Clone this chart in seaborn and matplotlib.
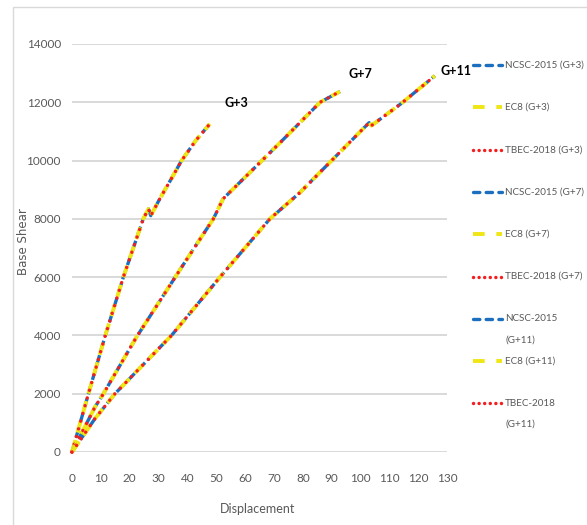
import matplotlib
matplotlib.use('Agg')
import pandas as pd
import seaborn as sns
import matplotlib.pyplot as plt
from matplotlib.lines import Line2D
from matplotlib.patches import Rectangle

# pushover curves (displacement, base shear)
g3_disp = [0, 5.7, 11.4, 17.8, 24.7, 26.5, 27.3, 30.5, 34, 38, 43, 47.8]
g3_shear = [0, 2000, 3950, 6000, 8000, 8340, 8110, 8700, 9300, 10000, 10700, 11260]

g7_disp = [0, 8, 10.9, 22.4, 38.4, 49, 52.4, 59.4, 72, 86, 92.9]
g7_shear = [0, 1550, 2000, 3950, 6400, 8000, 8690, 9370, 10600, 12000, 12370]

g11_disp = [0, 8, 14.9, 34.5, 51.3, 68.6, 79, 90, 103, 103.8, 114.3, 125.8]
g11_shear = [0, 1150, 2000, 4000, 6000, 8000, 8900, 10000, 11300, 11200, 11970, 12910]

buildings = ['G+3', 'G+7', 'G+11']
codes = ['NCSC-2015', 'EC8', 'TBEC-2018']
legend_labels = ['NCSC-2015 (G+3)', 'EC8 (G+3)', 'TBEC-2018 (G+3)',
                 'NCSC-2015 (G+7)', 'EC8 (G+7)', 'TBEC-2018 (G+7)',
                 'NCSC-2015\n(G+11)', 'EC8 (G+11)', 'TBEC-2018\n(G+11)']

curves = {'G+3': (g3_disp, g3_shear), 'G+7': (g7_disp, g7_shear), 'G+11': (g11_disp, g11_shear)}

code_style = {
    'NCSC-2015': dict(color='#1C6FBE', lw=2.4, linestyle=(0, (3.2, 1.3)), dash_capstyle='butt'),
    'EC8': dict(color='#F0E614', lw=2.8, linestyle=(0, (3.2, 2.0)), dash_capstyle='butt'),
    'TBEC-2018': dict(color='#F51E1E', lw=2.5, linestyle=(0, (0.01, 2.3)), dash_capstyle='round'),
}
# the legend keys use the plainer Excel patterns
legend_dash = {'NCSC-2015': (0, (1.9, 1.9)), 'EC8': (0, (3.0, 3.0)), 'TBEC-2018': (0, (0.01, 1.6))}

sns.set_theme(style='white')
plt.rcParams['font.family'] = ['Lato', 'DejaVu Sans']

W, H = 587, 525
fig = plt.figure(figsize=(W / 100, H / 100), dpi=100)
ax = fig.add_axes([72 / W, 1 - 452 / H, 375 / W, 408 / H])

for b in buildings:
    d, s = curves[b]
    df = pd.DataFrame({'disp': d, 'shear': s})
    for c in codes:
        sns.lineplot(data=df, x='disp', y='shear', ax=ax, sort=False, estimator=None,
                     clip_on=False, **code_style[c])

ax.set_xlim(0, 130)
ax.set_ylim(0, 14000)
ax.set_xticks(range(0, 131, 10))
ax.set_yticks(range(0, 14001, 2000))
ax.grid(axis='y', color='#d9d9d9', lw=1.4)
ax.set_axisbelow(True)
for sp in ax.spines.values():
    sp.set_visible(False)
ax.tick_params(axis='both', length=0, labelsize=8.5, labelcolor='#595959')
ax.tick_params(axis='x', pad=15)
ax.tick_params(axis='y', pad=8)

ax.set_xlabel('Displacement', fontsize=9, color='#595959')
ax.xaxis.set_label_coords(0.496, -0.125)
ax.set_ylabel('Base Shear', fontsize=8.5, color='#595959', family='DejaVu Sans')
ax.yaxis.set_label_coords(-0.112, 0.515)

# building tags next to curve ends
tag_pos = {'G+3': (52.7, 11980), 'G+7': (96, 12975), 'G+11': (127.6, 13080)}
for b in buildings:
    x, y = tag_pos[b]
    ax.text(x, y, b, fontsize=9, fontweight='bold', color='black', ha='left', va='center')

# legend on the right, drawn by hand to keep Excel's spacing
leg_texts = []
for i, lab in enumerate(legend_labels):
    c = codes[i % 3]
    ypx = 65 + 42.3 * i
    yf = 1 - ypx / H
    key = dict(code_style[c], linestyle=legend_dash[c])
    if c == 'NCSC-2015':
        key['dash_capstyle'] = 'round'
    fig.add_artist(Line2D([473 / W, 502 / W], [yf, yf], transform=fig.transFigure, **key))
    for j, line in enumerate(lab.split('\n')):
        t = fig.text(505 / W, 1 - (ypx + 21 * j) / H, line, fontsize=9, color='#595959',
                     ha='left', va='center')
        leg_texts.append(t)

# shrink legend text so the longest entry ends inside the picture
fig.canvas.draw()
r = fig.canvas.get_renderer()
widest = max(t.get_window_extent(r).width for t in leg_texts)
if widest > 79:
    for t in leg_texts:
        t.set_fontsize(9 * 79 / widest)

# chart frame
fig.add_artist(Rectangle((13 / W, -1), 2, 1 + (1 - 7 / H), transform=fig.transFigure,
                         fill=False, edgecolor='#d9d9d9', lw=1))

fig.savefig('out.png', dpi=100)
